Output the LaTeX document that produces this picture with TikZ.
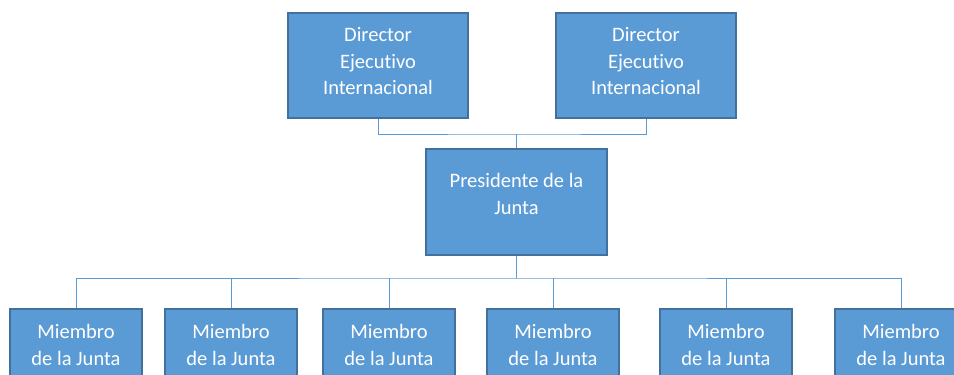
\documentclass[tikz,border=0pt]{standalone}
\usepackage{fontspec}
\setmainfont{Carlito}[Ligatures=NoCommon]
\usetikzlibrary{positioning}

\definecolor{boxblue}{HTML}{5B9BD5}
\definecolor{boxline}{HTML}{41719C}

\begin{document}
\begin{tikzpicture}[
    x=1pt, y=1pt,
    every node/.style={font=\fontsize{20.5}{26.5}\selectfont},
    box/.style={draw=boxline, fill=boxblue, line width=1.2pt, minimum width=180, minimum height=105, inner sep=0pt},
    member/.style={box, minimum width=132, minimum height=72, text=white, align=center},
    txt/.style={text=white, align=center, inner sep=0pt},
    link/.style={draw=boxblue, line width=0.9pt}
]
\clip (0,0) rectangle (954,-375);

% Directors
\node[box, label={[txt, yshift=4]center:{Director\\Ejecutivo\\Internacional}}] (dir1) at (378,-65.5) {};
\node[box, label={[txt, yshift=4]center:{Director\\Ejecutivo\\Internacional}}] (dir2) at (646,-65.5) {};

% President
\node[box, minimum width=181, minimum height=106, label={[txt, yshift=8]center:{Presidente de la\\Junta}}] (pres) at (516.5,-202) {};

% Board members
\foreach \x [count=\i] in {76, 231, 389, 553, 726, 901} {
    \node[member] (m\i) at (\x,-345) {Miembro\\de la Junta};
}

% Connectors
\coordinate (jt) at (pres.north |- 0,-134);
\coordinate (bus) at (pres.south |- 0,-278);
\draw[link] (dir1.south) |- (jt) -| (dir2.south);
\draw[link] (jt) -- (pres.north);
\draw[link] (pres.south) -- (bus);
\draw[link] (m1.north) |- (bus) -| (m6.north);
\foreach \i in {2,...,5} {
    \draw[link] (m\i.north) -- (m\i.north |- bus);
}

\end{tikzpicture}
\end{document}
